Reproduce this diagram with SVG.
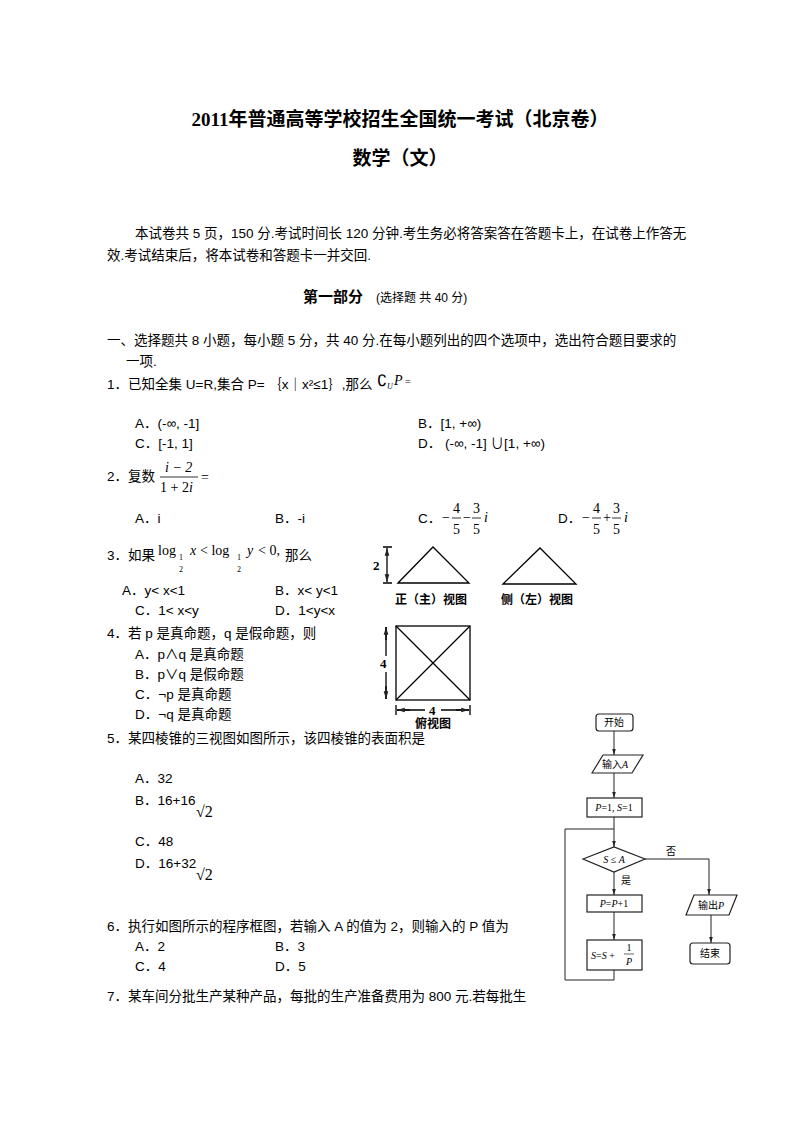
<svg xmlns="http://www.w3.org/2000/svg" width="800" height="1132" viewBox="0 0 800 1132">
<style>
text{font-family:"Liberation Sans","Noto Sans CJK SC",sans-serif;font-size:13.5px;fill:#000}
.t{font-family:"Liberation Serif","Noto Sans CJK SC",serif;font-weight:bold;font-size:19px}
.m{font-family:"Liberation Serif",serif;font-style:italic;font-size:14px}
.r{font-family:"Liberation Serif",serif;font-size:14px}
.ln{stroke:#000;stroke-width:1.3;fill:none}
.fc{stroke:#222;stroke-width:1.2;fill:#fff}
.fl{stroke:#222;stroke-width:1;fill:none}
.ft{font-family:"Liberation Serif","Noto Sans CJK SC",serif;font-size:10px}
</style>
<defs>
<marker id="a" viewBox="0 0 10 10" refX="10" refY="5" markerWidth="6" markerHeight="6" orient="auto-start-reverse"><path d="M0,2 L10,5 L0,8z" fill="#222"/></marker>
</defs>
<rect width="800" height="1132" fill="#fff"/>
<text class="t" x="400" y="126" text-anchor="middle">2011年普通高等学校招生全国统一考试（北京卷）</text>
<text class="t" x="400" y="165" text-anchor="middle">数学（文）</text>
<text x="135" y="238">本试卷共 5 页，150 分.考试时间长 120 分钟.考生务必将答案答在答题卡上，在试卷上作答无</text>
<text x="107" y="260">效.考试结束后，将本试卷和答题卡一并交回.</text>
<text x="303" y="302" style="font-size:15px;font-weight:bold">第一部分</text><text x="376" y="302" style="font-size:12px">(选择题 共 40 分)</text>
<text x="107" y="345">一、选择题共 8 小题，每小题 5 分，共 40 分.在每小题列出的四个选项中，选出符合题目要求的</text>
<text x="126" y="366">一项.</text>
<text x="107" y="389">1．已知全集 U=R,集合 P= ｛x｜x²≤1｝,那么</text><text x="377" y="386" class="r" style="font-size:16px">∁</text><text x="387" y="389" class="m" style="font-size:8px">U</text><text x="394" y="385" class="m">P</text><text x="405" y="385" class="r" style="font-size:10px">=</text>
<text x="135" y="428">A．(-∞, -1]</text><text x="418" y="428">B．[1, +∞)</text>
<text x="135" y="448">C．[-1,  1]</text><text x="418" y="448">D．  (-∞,  -1] ∪[1,  +∞)</text>
<text x="107" y="481">2．复数</text>
<text x="165" y="472" class="m">i<tspan class="r"> − 2</tspan></text><line x1="160" y1="477" x2="198" y2="477" stroke="#000" stroke-width="0.8"/><text x="160" y="492" class="r">1 + 2<tspan class="m">i</tspan></text><text x="201" y="482" class="r">=</text>
<text x="135" y="523">A．i</text><text x="275" y="523">B．-i</text>
<text x="418" y="523">C．</text><text x="442" y="522" class="r">−</text><text x="453" y="513" class="r">4</text><line x1="452" y1="518" x2="461" y2="518" stroke="#000" stroke-width="0.8"/><text x="453" y="534" class="r">5</text><text x="463" y="522" class="r">−</text><text x="473" y="513" class="r">3</text><line x1="472" y1="518" x2="481" y2="518" stroke="#000" stroke-width="0.8"/><text x="473" y="534" class="r">5</text><text x="484" y="522" class="m">i</text>
<text x="558" y="523">D．</text><text x="582" y="522" class="r">−</text><text x="593" y="513" class="r">4</text><line x1="592" y1="518" x2="601" y2="518" stroke="#000" stroke-width="0.8"/><text x="593" y="534" class="r">5</text><text x="603" y="522" class="r">+</text><text x="613" y="513" class="r">3</text><line x1="612" y1="518" x2="621" y2="518" stroke="#000" stroke-width="0.8"/><text x="613" y="534" class="r">5</text><text x="624" y="522" class="m">i</text>
<text x="107" y="560">3．如果</text><text x="158" y="555" class="r">log</text><text x="179" y="560" class="r" style="font-size:8px">1</text><text x="179" y="572" class="r" style="font-size:8px">2</text><text x="190" y="555" class="m">x</text><text x="200" y="555" class="r">&lt; log</text><text x="237" y="560" class="r" style="font-size:8px">1</text><text x="237" y="572" class="r" style="font-size:8px">2</text><text x="247" y="555" class="m">y</text><text x="258" y="555" class="r">&lt; 0,</text><text x="285" y="560">那么</text>
<text x="122" y="595">A．y&lt; x&lt;1</text><text x="275" y="595">B．x&lt; y&lt;1</text>
<text x="135" y="615">C．1&lt; x&lt;y</text><text x="275" y="615">D．1&lt;y&lt;x</text>
<text x="107" y="638">4．若 p 是真命题，q 是假命题，则</text>
<text x="135" y="659">A．p∧q 是真命题</text><text x="135" y="679">B．p∨q 是假命题</text><text x="135" y="699">C．¬p 是真命题</text><text x="135" y="719">D．¬q 是真命题</text>
<text x="107" y="743">5．某四棱锥的三视图如图所示，该四棱锥的表面积是</text>
<text x="135" y="783">A．32</text>
<text x="135" y="805">B．16+16</text><text x="196" y="817" class="r" style="font-size:16px">√2</text>
<text x="135" y="846">C．48</text>
<text x="135" y="868">D．16+32</text><text x="196" y="880" class="r" style="font-size:16px">√2</text>
<text x="107" y="931">6．执行如图所示的程序框图，若输入 A 的值为 2，则输入的 P 值为</text>
<text x="135" y="951">A．2</text><text x="275" y="951">B．3</text>
<text x="135" y="971">C．4</text><text x="275" y="971">D．5</text>
<text x="107" y="1001">7．某车间分批生产某种产品，每批的生产准备费用为 800 元.若每批生</text>
<g id="three-view">
<path class="ln" d="M398,583 L433,547 L469,583 Z"/>
<path class="ln" d="M503,584 L540,548 L576,584 Z"/>
<path class="ln" d="M383,547 H392 M383,583 H392"/>
<path class="ln" d="M387,548 V582" marker-start="url(#a)" marker-end="url(#a)"/>
<text x="373" y="570" style="font-family:'Liberation Serif';font-weight:bold;font-size:13px">2</text>
<text x="395" y="604" style="font-size:12px;font-weight:bold">正（主）视图</text>
<text x="501" y="604" style="font-size:12px;font-weight:bold">侧（左）视图</text>
<rect class="ln" x="396" y="626" width="74" height="74"/>
<path class="ln" d="M396,626 L470,700 M470,626 L396,700"/>
<path class="ln" d="M386,627 V656 M386,672 V699"/>
<path class="ln" d="M386,640 V627" marker-end="url(#a)"/><path class="ln" d="M386,686 V699" marker-end="url(#a)"/>
<text x="380" y="668" style="font-family:'Liberation Serif';font-weight:bold;font-size:13px">4</text>
<path class="ln" d="M397,710 H425 M441,710 H469" />
<path class="ln" d="M410,710 H397" marker-end="url(#a)"/><path class="ln" d="M456,710 H469" marker-end="url(#a)"/>
<path class="ln" d="M396,705 V715 M470,705 V715"/>
<text x="429" y="715" style="font-family:'Liberation Serif';font-weight:bold;font-size:13px">4</text>
<text x="433" y="728" text-anchor="middle" style="font-size:12px;font-weight:bold">俯视图</text>
</g>
<g id="connectors">
<path class="fl" d="M614,731 V755" marker-end="url(#a)"/>
<path class="fl" d="M614,773 V798" marker-end="url(#a)"/>
<path class="fl" d="M614,817 V847" marker-end="url(#a)"/>
<path class="fl" d="M614,872 V895" marker-end="url(#a)"/>
<path class="fl" d="M614,912 V940" marker-end="url(#a)"/>
<path class="fl" d="M614,970 V980 H565 V829 H614"/>
<path class="fl" d="M645,859 H709 V895" marker-end="url(#a)"/>
<path class="fl" d="M711,915 V943" marker-end="url(#a)"/>
<text class="ft" x="666" y="855">否</text>
<text class="ft" x="621" y="884">是</text>
</g>
<g id="start"><rect class="fc" x="596" y="714" width="37" height="17" rx="3"/><text class="ft" x="614" y="726" text-anchor="middle">开始</text></g>
<g id="input"><path class="fc" d="M592,773 L603,755 H643 L632,773 Z"/><text class="ft" x="615" y="768" text-anchor="middle">输入<tspan font-style="italic">A</tspan></text></g>
<g id="init"><rect class="fc" x="587" y="798" width="55" height="19"/><text class="ft" x="614" y="811" text-anchor="middle" font-style="italic">P<tspan font-style="normal">=1, </tspan>S<tspan font-style="normal">=1</tspan></text></g>
<g id="cond"><path class="fc" d="M583,859 L614,847 L645,859 L614,872 Z"/><text class="ft" x="614" y="863" text-anchor="middle" font-style="italic">S<tspan font-style="normal"> ≤ </tspan>A</text></g>
<g id="inc"><rect class="fc" x="587" y="895" width="55" height="17"/><text class="ft" x="614" y="907" text-anchor="middle" font-style="italic">P<tspan font-style="normal">=</tspan>P<tspan font-style="normal">+1</tspan></text></g>
<g id="sum"><rect class="fc" x="587" y="940" width="55" height="30"/><text class="ft" x="591" y="959" font-style="italic">S<tspan font-style="normal">=</tspan>S<tspan font-style="normal"> + </tspan></text><text class="ft" x="629" y="951" text-anchor="middle">1</text><line x1="624" y1="954" x2="634" y2="954" stroke="#222" stroke-width="0.7"/><text class="ft" x="629" y="965" text-anchor="middle" font-style="italic">P</text></g>
<g id="output"><path class="fc" d="M686,915 L694,895 H737 L729,915 Z"/><text class="ft" x="711" y="909" text-anchor="middle">输出<tspan font-style="italic">P</tspan></text></g>
<g id="end"><rect class="fc" x="690" y="943" width="40" height="21" rx="3"/><text class="ft" x="710" y="957" text-anchor="middle">结束</text></g>
</svg>
